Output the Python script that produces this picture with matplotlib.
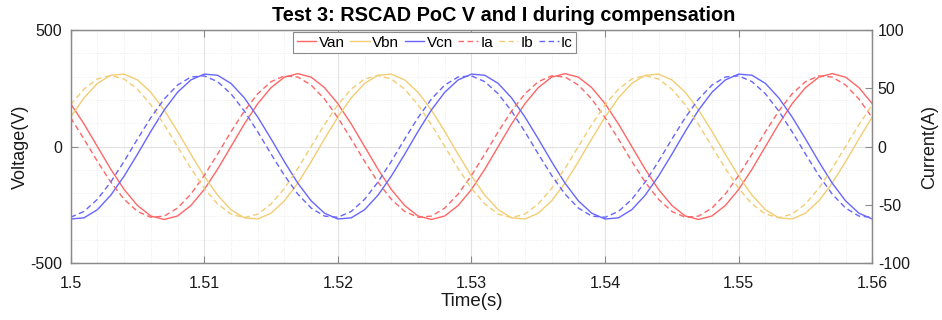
import matplotlib
matplotlib.use("Agg")
import matplotlib.pyplot as plt
import numpy as np

plt.rcParams["font.family"] = ["Liberation Sans", "DejaVu Sans"]
plt.rcParams["axes.unicode_minus"] = False

# sample times (1 ms steps)
time_ms = list(range(0, 61))

# phase voltages (V)
van = [184, 97, 0, -97, -184, -253, -298, -313, -298, -253, -184, -97, 0, 97, 184, 253, 298, 313, 298, 253,
       184, 97, 0, -97, -184, -253, -298, -313, -298, -253, -184, -97, 0, 97, 184, 253, 298, 313, 298, 253,
       184, 97, 0, -97, -184, -253, -298, -313, -298, -253, -184, -97, 0, 97, 184, 253, 298, 313, 298, 253,
       184]
vbn = [127, 209, 271, 306, 311, 286, 233, 157, 65, -33, -127, -209, -271, -306, -311, -286, -233, -157, -65, 33,
       127, 209, 271, 306, 311, 286, 233, 157, 65, -33, -127, -209, -271, -306, -311, -286, -233, -157, -65, 33,
       127, 209, 271, 306, 311, 286, 233, 157, 65, -33, -127, -209, -271, -306, -311, -286, -233, -157, -65, 33,
       127]
vcn = [-311, -306, -271, -209, -127, -33, 65, 157, 233, 286, 311, 306, 271, 209, 127, 33, -65, -157, -233, -286,
       -311, -306, -271, -209, -127, -33, 65, 157, 233, 286, 311, 306, 271, 209, 127, 33, -65, -157, -233, -286,
       -311, -306, -271, -209, -127, -33, 65, 157, 233, 286, 311, 306, 271, 209, 127, 33, -65, -157, -233, -286,
       -311]

# phase currents (A)
ia = [24.8, 6.4, -12.7, -30.5, -45.3, -55.7, -60.7, -59.7, -52.8, -40.8, -24.8, -6.4, 12.7, 30.5, 45.3, 55.7, 60.7, 59.7, 52.8, 40.8,
      24.8, 6.4, -12.7, -30.5, -45.3, -55.7, -60.7, -59.7, -52.8, -40.8, -24.8, -6.4, 12.7, 30.5, 45.3, 55.7, 60.7, 59.7, 52.8, 40.8,
      24.8, 6.4, -12.7, -30.5, -45.3, -55.7, -60.7, -59.7, -52.8, -40.8, -24.8, -6.4, 12.7, 30.5, 45.3, 55.7, 60.7, 59.7, 52.8, 40.8,
      24.8]
ib = [35.9, 49.3, 58.0, 61.0, 58.0, 49.3, 35.9, 18.8, 0.0, -18.8, -35.9, -49.3, -58.0, -61.0, -58.0, -49.3, -35.9, -18.8, 0.0, 18.8,
      35.9, 49.3, 58.0, 61.0, 58.0, 49.3, 35.9, 18.8, 0.0, -18.8, -35.9, -49.3, -58.0, -61.0, -58.0, -49.3, -35.9, -18.8, 0.0, 18.8,
      35.9, 49.3, 58.0, 61.0, 58.0, 49.3, 35.9, 18.8, 0.0, -18.8, -35.9, -49.3, -58.0, -61.0, -58.0, -49.3, -35.9, -18.8, 0.0, 18.8,
      35.9]
ic = [-60.7, -55.7, -45.3, -30.5, -12.7, 6.4, 24.8, 40.8, 52.8, 59.7, 60.7, 55.7, 45.3, 30.5, 12.7, -6.4, -24.8, -40.8, -52.8, -59.7,
      -60.7, -55.7, -45.3, -30.5, -12.7, 6.4, 24.8, 40.8, 52.8, 59.7, 60.7, 55.7, 45.3, 30.5, 12.7, -6.4, -24.8, -40.8, -52.8, -59.7,
      -60.7, -55.7, -45.3, -30.5, -12.7, 6.4, 24.8, 40.8, 52.8, 59.7, 60.7, 55.7, 45.3, 30.5, 12.7, -6.4, -24.8, -40.8, -52.8, -59.7,
      -60.7]

x_ticks = [1.5, 1.51, 1.52, 1.53, 1.54, 1.55, 1.56]
x_labels = ["1.5", "1.51", "1.52", "1.53", "1.54", "1.55", "1.56"]
v_ticks = [-500, 0, 500]
i_ticks = [-100, -50, 0, 50, 100]

RED = "#ff6666"
YEL = "#f2cd73"
BLU = "#6666ff"
SPINE = "#8a8a8a"
TXT = "#1a1a1a"

t = 1.5 + np.array(time_ms) / 1000.0

fig = plt.figure(figsize=(9.42, 3.2), dpi=100)
ax = fig.add_axes([0.075, 0.178, 0.851, 0.728])
ax2 = ax.twinx()

h1, = ax.plot(t, van, color=RED, lw=1.0, label="Van")
h2, = ax.plot(t, vbn, color=YEL, lw=1.0, label="Vbn")
h3, = ax.plot(t, vcn, color=BLU, lw=1.0, label="Vcn")
h4, = ax2.plot(t, ia, color=RED, lw=1.0, ls=(0, (4, 2.5)), label="Ia")
h5, = ax2.plot(t, ib, color=YEL, lw=1.0, ls=(0, (4, 2.5)), label="Ib")
h6, = ax2.plot(t, ic, color=BLU, lw=1.0, ls=(0, (4, 2.5)), label="Ic")

ax.set_xlim(1.5, 1.56)
ax.set_ylim(-500, 500)
ax2.set_ylim(-100, 100)
ax.set_xticks(x_ticks)
ax.set_xticklabels(x_labels)
ax.set_yticks(v_ticks)
ax2.set_yticks(i_ticks)
ax.set_xticks(np.arange(1.5, 1.5601, 0.002), minor=True)
ax.set_yticks(np.arange(-500, 501, 100), minor=True)

# grid
ax.grid(True, which="major", color="#e2e2e2", lw=0.8)
ax.grid(True, which="minor", color="#ececec", lw=0.7, ls=(0, (1, 1.5)))
ax.set_axisbelow(True)

for a in (ax, ax2):
    for s in a.spines.values():
        s.set_color(SPINE)
        s.set_linewidth(0.9)
    a.tick_params(which="major", direction="in", length=5, width=0.8, color=SPINE,
                  labelsize=11.5, labelcolor=TXT)
    a.tick_params(which="minor", length=0)
ax.tick_params(axis="x", top=True, labeltop=False, pad=9)
ax.tick_params(axis="y", pad=6)
ax2.tick_params(axis="y", pad=4)

ax.set_xlabel("Time(s)", fontsize=13.5, color=TXT, labelpad=2)
ax.set_ylabel("Voltage(V)", fontsize=13, color=TXT, labelpad=1)
ax2.set_ylabel("Current(A)", fontsize=13, color=TXT, labelpad=8)

fig.text(0.535, 0.951, "Test 3: RSCAD PoC V and I during compensation",
         ha="center", va="center", fontsize=14.3, fontweight="bold", color="black")

leg = fig.legend(handles=[h1, h2, h3, h4, h5, h6], loc="upper left",
                 bbox_to_anchor=(292.7 / 942, 1 - 31.7 / 320), ncol=6,
                 fontsize=11, handlelength=1.3, handletextpad=0.15, columnspacing=0.35,
                 borderpad=0.25, borderaxespad=0, fancybox=False, framealpha=1)
leg.get_frame().set_edgecolor(SPINE)
leg.get_frame().set_linewidth(0.8)

fig.savefig("out.png", dpi=100)
